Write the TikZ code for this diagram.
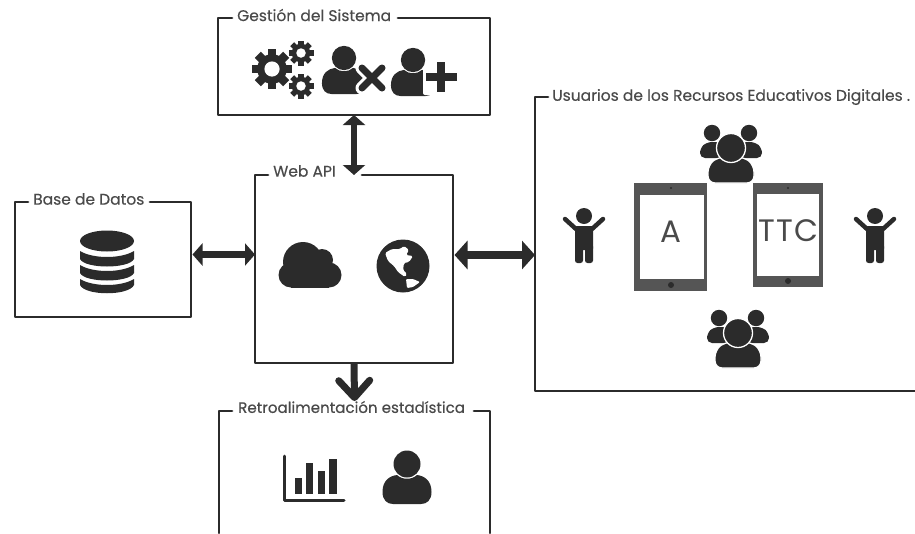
\documentclass[tikz,border=0pt]{standalone}
\usepackage{fontspec}
\setmainfont{Poppins}
\newfontfamily\labelfont[FakeBold=0.4]{Poppins}
\usetikzlibrary{arrows.meta}
\definecolor{ink}{HTML}{2B2B2B}
\definecolor{labelink}{HTML}{4A4A4A}
\definecolor{tabletgrey}{HTML}{555555}
\tikzset{
  area/.style={inner sep=0pt,outer sep=0pt,minimum width=#1},
  frame/.style={draw=ink,line width=2.8pt,line cap=round,line join=round},
  boxlabel/.style={text=labelink,font=\labelfont\fontsize{15.5}{17}\selectfont,anchor=west,inner sep=0pt},
  twoway/.style={draw=ink,line width=6.5pt,{Triangle[length=10pt,width=22pt]}-{Triangle[length=10pt,width=22pt]}},
  widetwoway/.style={draw=ink,line width=8.5pt,{Triangle[length=13pt,width=28pt]}-{Triangle[length=13pt,width=28pt]}},
  oneway/.style={draw=ink,line width=7pt,-{Straight Barb[length=17pt,width=31pt,line width=7pt,round]}},
  screenlabel/.style={text=labelink,font=\fontsize{31}{33}\selectfont,inner sep=0pt}
}
\newcommand{\personbody}{%
  \fill[ink] (-24.5,28) .. controls (-24.5,17) and (-18,12) .. (-10,11)
    .. controls (-5,16) and (5,16) .. (10,11)
    .. controls (18,12) and (24.5,17) .. (24.5,28)
    .. controls (24.5,36) and (20,40) .. (14,40) -- (-14,40)
    .. controls (-20,40) and (-24.5,36) .. (-24.5,28) -- cycle;
  \fill[ink] (0,0) circle (13.5);
}
\newcommand{\personicon}[3]{\begin{scope}[shift={(#1,#2)},scale=#3]\personbody\end{scope}}
\newcommand{\gearicon}[3]{%
  \begin{scope}[shift={(#1,#2)},scale=#3]
    \fill[ink] (0,0) circle (0.74);
    \foreach \a in {0,45,90,135}
      \fill[ink,rotate around={\a:(0,0)}] (-0.22,-1) rectangle (0.22,1);
    \fill[white] (0,0) circle (0.38);
  \end{scope}}
\newcommand{\groupicon}[2]{%
  \begin{scope}[shift={(#1,#2)}]
    \fill[ink] (-19,-15) circle (8.2);
    \fill[ink] (18,-15) circle (8.2);
    \fill[ink,rounded corners=5pt] (-31,10) -- (-31,0) -- (-24,-6) -- (-10,-6) -- (-6,10) -- cycle;
    \fill[ink,rounded corners=5pt] (31,10) -- (31,0) -- (24,-6) -- (10,-6) -- (6,10) -- cycle;
    \filldraw[ink,draw=white,line width=1.3pt,rounded corners=7pt]
      (-23,35) -- (-23,17) -- (-13,9) -- (13,9) -- (23,17) -- (23,35) -- cycle;
    \filldraw[ink,draw=white,line width=1.3pt] (0,0) circle (14.5);
  \end{scope}}
\newcommand{\childicon}[2]{%
  \begin{scope}[shift={(#1,#2)}]
    \fill[ink] (0,0) circle (8);
    \draw[ink,line width=4.5pt,line cap=round,line join=round] (-19,3) -- (-8,13) -- (8,13) -- (19,3);
    \fill[ink,rounded corners=1.5pt] (-9,10) rectangle (9,34);
    \fill[ink,rounded corners=2.5pt] (-9,28) rectangle (-1,47);
    \fill[ink,rounded corners=2.5pt] (1,28) rectangle (9,47);
  \end{scope}}
\begin{document}
\begin{tikzpicture}[x=1pt,y=-1pt]
\useasboundingbox (0,0) rectangle (915,533);
% named areas of the boxes
\node[area=272pt,minimum height=97pt]  (sys)   at (354,66.5) {};
\node[area=198pt,minimum height=188pt] (web)   at (354,269) {};
\node[area=176pt,minimum height=115pt] (db)    at (103,259.5) {};
\node[area=380pt,minimum height=294pt] (users) at (725,244) {};
\node[area=271pt,minimum height=122pt] (stats) at (354.5,472) {};
% labels
\node[boxlabel] (syslabel)   at (237,15)  {Gestión del Sistema};
\node[boxlabel] (weblabel)   at (273,171) {Web API};
\node[boxlabel] (dblabel)    at (33,199)  {Base de Datos};
\node[boxlabel] (userslabel) at (552,97)  {Usuarios de los Recursos Educativos Digitales .};
\node[boxlabel,font=\labelfont\fontsize{15.1}{17}\selectfont] (statslabel) at (238,407) {Retroalimentación estadística};
% frames with a gap for the label
\draw[frame] (232,18) -- (sys.north west) -- (sys.south west) -- (sys.south east) -- (sys.north east) -- (398,18);
\draw[frame] (268,175) -- (web.north west) -- (web.south west) -- (web.south east) -- (web.north east) -- (362,175);
\draw[frame] (28,202) -- (db.north west) -- (db.south west) -- (db.south east) -- (db.north east) -- (150,202);
\draw[frame] (548,97) -- (users.north west) -- (users.south west) -- (users.south east);
\draw[frame] (stats.south west) -- (stats.north west) -- (232,411);
\draw[frame] (stats.south east) -- (stats.north east) -- (474,411);
% connectors
\draw[twoway] (sys.south) -- (web.north);
\draw[twoway] ([yshift=5pt]db.east) ++(1.5,0) -- (web.west |- 0,254.5);
\draw[widetwoway] (web.east |- 0,255) ++(1.5,0) -- (users.west |- 0,255);
\draw[oneway] (web.south) -- (stats.north |- 0,401);
% system icons
\gearicon{272}{69}{20}
\gearicon{301}{53}{12.5}
\gearicon{301}{86}{12.5}
\personicon{344}{58}{0.9}
\draw[white,line width=13pt,line cap=round] (362,68) -- (382,88) (382,68) -- (362,88);
\draw[ink,line width=7pt,line cap=round] (362,68) -- (382,88) (382,68) -- (362,88);
\personicon{413}{60}{0.9}
\fill[white,rounded corners=2pt] (423,68) rectangle (455,95);
\draw[ink,line width=8pt] (426,77) -- (457,77) (441,62) -- (441,92);
% database
\begin{scope}[shift={(107,0)}]
  \fill[ink] (0,241) ellipse (27 and 10.5);
  \fill[ink] (-27,251) .. controls (-14,259) and (14,259) .. (27,251) -- (27,259) .. controls (22,269) and (-22,269) .. (-27,259) -- cycle;
  \fill[ink] (-27,265) .. controls (-14,273) and (14,273) .. (27,265) -- (27,273) .. controls (22,283) and (-22,283) .. (-27,273) -- cycle;
  \fill[ink] (-27,279) .. controls (-14,287) and (14,287) .. (27,279) -- (27,285) .. controls (22,296) and (-22,296) .. (-27,285) -- cycle;
\end{scope}
% cloud
\fill[ink] (303,262) circle (20) (322,260) circle (11) (291,275) circle (12.5) (329,275) circle (12.5);
\fill[ink] (291,268) rectangle (329,287.5);
% globe
\begin{scope}[shift={(403,266)}]
  \fill[ink] (0,0) circle (26.5);
  \fill[white,rounded corners=1.5pt] (-18,-13) -- (-11,-17) -- (-3,-17) -- (1,-20) -- (6,-16) -- (3,-11) -- (10,-10) -- (6,-4) -- (1,-3) -- (0,4) -- (4,8) -- (2,11) -- (-5,6) -- (-9,0) -- (-15,-5) -- cycle;
  \fill[white,rounded corners=1pt] (3,13) -- (10,13) -- (17,16) -- (10,21) -- (4,22) -- cycle;
\end{scope}
% users
\groupicon{731}{148}
\groupicon{738}{333}
\childicon{584}{216}
\childicon{875}{216}
% tablets
\fill[tabletgrey] (634,183) rectangle (707,291);
\fill[white] (640,195) rectangle (704,279);
\fill[ink] (671,188) circle (1.1) (671,285) circle (3);
\fill[tabletgrey] (753,183) rectangle (823,287);
\fill[white] (757,194) rectangle (819,276);
\fill[ink] (788,188) circle (1.1) (788,281) circle (3);
\node[screenlabel] (tablettexta) at (671,232) {A};
\node[screenlabel] (tablettextb) at (788.5,231) {\addfontfeature{LetterSpace=5}TTC};
% chart
\draw[ink,line width=3pt,line cap=round,line join=round] (284,456) -- (284,500) -- (344,500);
\fill[ink] (294.5,478) rectangle (301.5,493.5);
\fill[ink] (305.5,463) rectangle (313,493.5);
\fill[ink] (317.5,471) rectangle (325,493.5);
\fill[ink] (329,459) rectangle (337,493.5);
% statistics person
\personicon{407}{464}{1}
\end{tikzpicture}
\end{document}
